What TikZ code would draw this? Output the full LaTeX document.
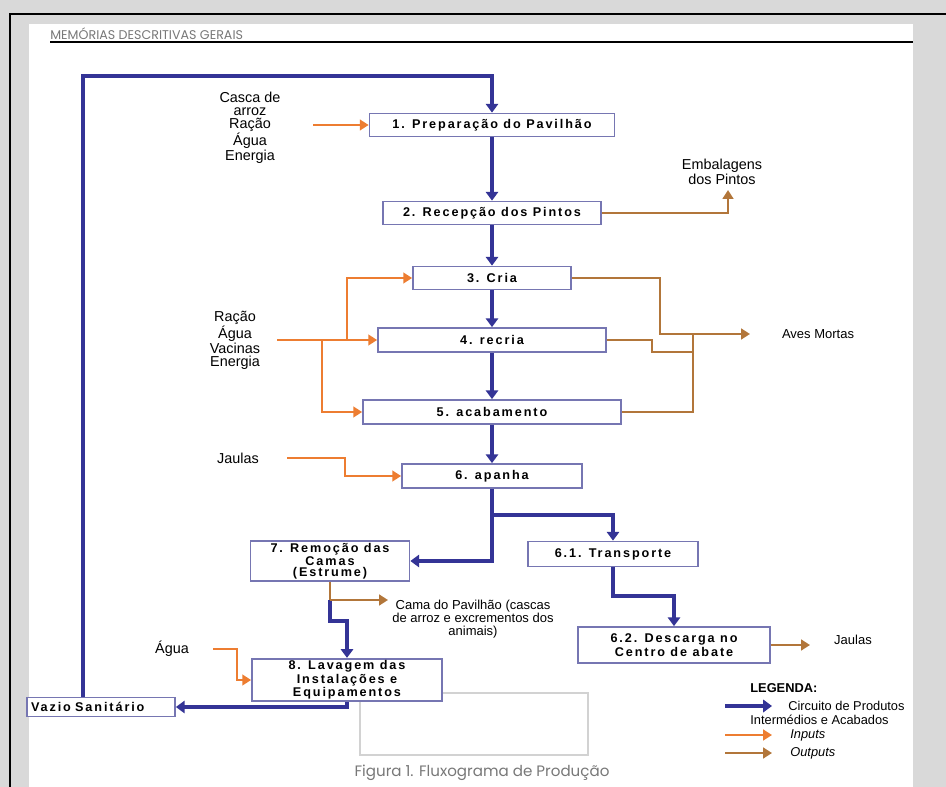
\documentclass[tikz,border=0pt]{standalone}
\usepackage{fontspec}
\setmainfont{Liberation Sans}
\newfontfamily\boxfont[LetterSpace=15]{Liberation Sans}
\newfontfamily\pagefont{Poppins}
\usetikzlibrary{arrows.meta}

\definecolor{pagegray}{RGB}{217,217,217}
\definecolor{flowblue}{RGB}{52,52,150}
\definecolor{boxline}{RGB}{118,118,178}
\definecolor{inorange}{RGB}{237,125,49}
\definecolor{outbrown}{RGB}{178,118,58}
\definecolor{pagetext}{RGB}{120,120,120}

\begin{document}
\begin{tikzpicture}[x=0.02cm,y=-0.02cm,
	box/.style={draw=boxline,line width=1pt,fill=white,inner sep=1pt,align=center,
		font=\boxfont\bfseries\fontsize{7.2}{8}\selectfont},
	flow/.style={draw=flowblue,line width=1.8pt,-{Triangle[width=7pt,length=5pt]}},
	flowline/.style={draw=flowblue,line width=1.8pt},
	inarrow/.style={draw=inorange,line width=1.4pt,-{Triangle[width=6pt,length=5pt]}},
	outarrow/.style={draw=outbrown,line width=1.4pt,-{Triangle[width=6pt,length=5pt]}},
	outline/.style={draw=outbrown,line width=1.4pt},
	lbl/.style={align=center,inner sep=0pt,font=\fontsize{8.2}{7.3}\selectfont},
	small/.style={align=center,inner sep=0pt,font=\fontsize{7.4}{7.6}\selectfont},
	]

	\useasboundingbox (0,0) rectangle (946,787);
	\fill[pagegray] (0,0) rectangle (946,787);
	\fill[white] (29,24) rectangle (913,787);
	\draw[line width=0.8pt] (10,787) -- (10,14) -- (946,14);

	\node[anchor=south west,inner sep=0pt,text=pagetext,font=\pagefont\fontsize{7.2}{8}\selectfont] (head) at (50,40) {MEMÓRIAS DESCRITIVAS GERAIS};
	\draw[line width=0.6pt] (50,42) -- (913,42);

	\draw[gray!35,line width=0.6pt] (360,693) rectangle (588,755);

	\node[box,minimum width=4.9cm,minimum height=0.46cm] (b1) at (492,125) {1. Preparação do Pavilhão};
	\node[box,minimum width=4.36cm,minimum height=0.46cm] (b2) at (492,213) {2. Recepção dos Pintos};
	\node[box,minimum width=3.16cm,minimum height=0.46cm] (b3) at (492,278) {3. Cria};
	\node[box,minimum width=4.56cm,minimum height=0.48cm] (b4) at (492,340) {4. recria};
	\node[box,minimum width=5.16cm,minimum height=0.48cm] (b5) at (492,412) {5. acabamento};
	\node[box,minimum width=3.6cm,minimum height=0.48cm] (b6) at (492,476) {6. apanha};
	\node[box,minimum width=3.4cm,minimum height=0.5cm] (b61) at (613,554) {6.1. Transporte};
	\node[box,minimum width=3.84cm,minimum height=0.72cm] (b62) at (674,645) {6.2. Descarga no\\Centro de abate};
	\node[box,minimum width=3.18cm,minimum height=0.64cm,font=\boxfont\bfseries\fontsize{7.2}{5}\selectfont] (b7) at (330,561) {7. Remoção das\\Camas\\(Estrume)};
	\node[box,minimum width=3.8cm,minimum height=0.7cm,font=\boxfont\bfseries\fontsize{7.2}{5}\selectfont] (b8) at (347,680) {8. Lavagem das\\Instalações e\\Equipamentos};
	\node[box,minimum width=2.96cm,minimum height=0.38cm,text width=2.8cm,align=left] (vazio) at (101,707) {Vazio Sanitário};

	\node[lbl] (in1) at (250,128) {Casca de\\arroz\\Ração\\Água\\Energia};
	\node[lbl] (in2) at (235,340) {Ração\\Água\\Vacinas\\Energia};
	\node[lbl] (in3) at (238,458) {Jaulas};
	\node[lbl] (in4) at (172,649) {Água};
	\node[lbl] (emb) at (722,172) {Embalagens\\dos Pintos};
	\node[small] (aves) at (818,334) {Aves Mortas};
	\node[small] (cama) at (473,619) {Cama do Pavilhão (cascas\\de arroz e excrementos dos\\animais)};
	\node[small] (jaulas2) at (853,640) {Jaulas};

	\draw[flow] (b1) -- (b2);
	\draw[flow] (b2) -- (b3);
	\draw[flow] (b3) -- (b4);
	\draw[flow] (b4) -- (b5);
	\draw[flow] (b5) -- (b6);
	\coordinate (fork) at (492,515);
	\draw[flowline] (b6) -- (fork);
	\draw[flow] (fork) -| (b61);
	\draw[flow] (fork) |- (b7);
	\coordinate (t1) at (613,596);
	\draw[flow] (b61) -- (t1) -| (b62);
	\coordinate (cm) at (330,600);
	\coordinate (t2) at (330,621);
	\draw[flow] (cm) -- (t2) -| (b8);
	\draw[flow] (b8) |- (vazio);
	\coordinate (loop) at (83,76);
	\draw[flow] (vazio.north -| loop) -- (loop) -| (b1);

	\coordinate (in1s) at (313,125);
	\draw[inarrow] (in1s) -- (b1);
	\coordinate (in2s) at (277,340);
	\coordinate (j1) at (347,340);
	\coordinate (j2) at (322,340);
	\draw[inarrow] (in2s) -- (b4);
	\draw[inarrow] (j1) |- (b3);
	\draw[inarrow] (j2) |- (b5);
	\coordinate (in3s) at (287,458);
	\coordinate (j3) at (345,467);
	\draw[inarrow] (in3s) -| (j3) |- (b6);
	\coordinate (in4s) at (213,649);
	\coordinate (j4) at (237,665);
	\draw[inarrow] (in4s) -| (j4) |- (b8);

	\coordinate (embtip) at (728,190);
	\draw[outarrow] (b2) -| (embtip);
	\coordinate (a1) at (660,334);
	\coordinate (amtip) at (750,334);
	\draw[outarrow] (b3) -| (a1) -- (amtip);
	\coordinate (a2) at (652,352);
	\coordinate (a3) at (693,352);
	\draw[outline] (b4) -| (a2) -- (a3);
	\draw[outline] (a1 -| a3) -- (a3) |- (b5);
	\coordinate (cmend) at (388,600);
	\draw[outline] (b7) -- (cm);
	\draw[outarrow] (cm) -- (cmend);
	\coordinate (j2tip) at (810,645);
	\draw[outarrow] (b62) -- (j2tip);

	\node[anchor=west,inner sep=0pt,font=\bfseries\fontsize{7.3}{8}\selectfont] (leg) at (750,688) {LEGENDA:};
	\coordinate (lg1) at (725,706);
	\coordinate (lg1e) at (772,706);
	\coordinate (lg2) at (725,735);
	\coordinate (lg2e) at (772,735);
	\coordinate (lg3) at (725,753);
	\coordinate (lg3e) at (772,753);
	\draw[flow] (lg1) -- (lg1e);
	\draw[inarrow] (lg2) -- (lg2e);
	\draw[outarrow] (lg3) -- (lg3e);
	\node[anchor=west,inner sep=0pt,font=\fontsize{7.3}{8}\selectfont] (leg1a) at (788,706) {Circuito de Produtos};
	\node[anchor=west,inner sep=0pt,font=\fontsize{7.3}{8}\selectfont] (leg1b) at (750,720) {Intermédios e Acabados};
	\node[anchor=west,inner sep=0pt,font=\itshape\fontsize{7.3}{8}\selectfont] (leg2) at (790,735) {Inputs};
	\node[anchor=west,inner sep=0pt,font=\itshape\fontsize{7.3}{8}\selectfont] (leg3) at (790,753) {Outputs};

	\node[text=pagetext,inner sep=0pt,font=\pagefont\fontsize{8.6}{9}\selectfont] (cap) at (482,773) {Figura 1. Fluxograma de Produção};
\end{tikzpicture}
\end{document}
